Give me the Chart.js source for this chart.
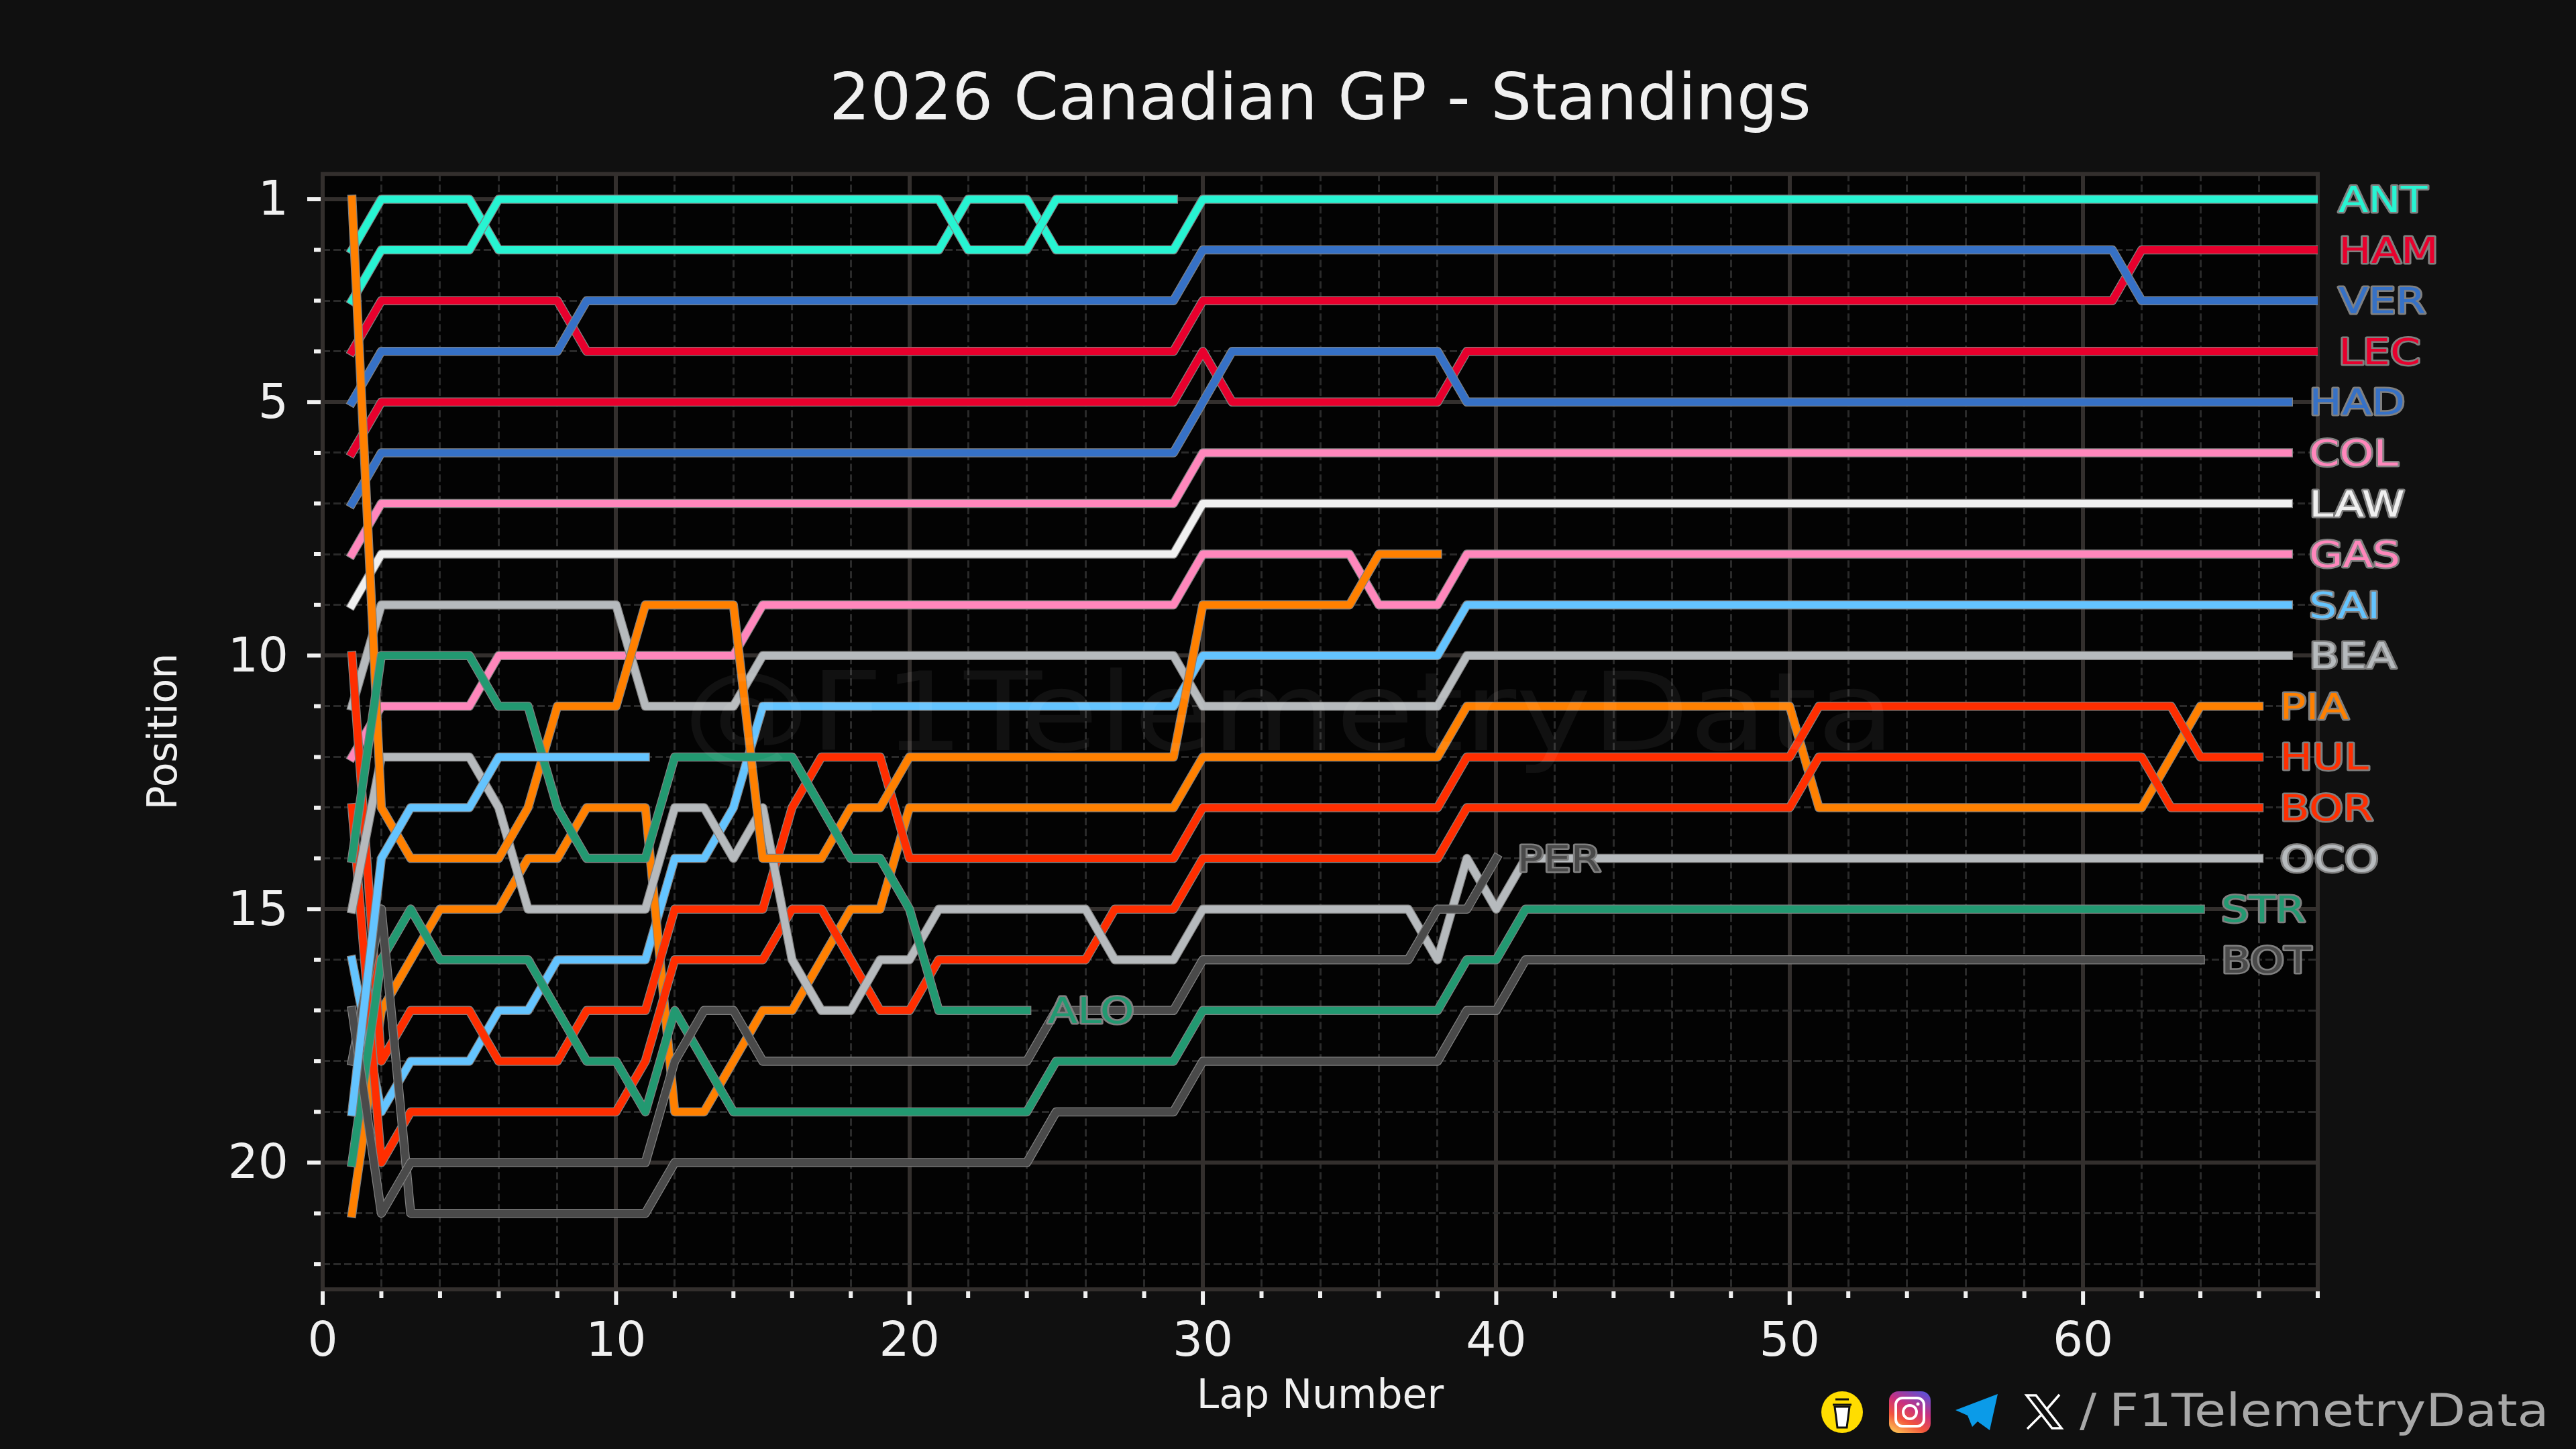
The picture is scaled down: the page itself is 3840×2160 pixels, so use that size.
<!DOCTYPE html>
<html>
<head>
<meta charset="utf-8">
<title>2026 Canadian GP - Standings</title>
<script src="https://cdn.jsdelivr.net/npm/chart.js"></script>
<style>
  html, body { margin: 0; background: #101010; }
  canvas { display: block; }
</style>
</head>
<body>
<canvas id="standings" width="3840" height="2160"></canvas>
<script>
const laps = [
  1, 2, 3, 4, 5, 6, 7, 8, 9, 10, 11, 12, 13, 14, 15, 16, 17, 18, 19, 20,
  21, 22, 23, 24, 25, 26, 27, 28, 29, 30, 31, 32, 33, 34, 35, 36, 37, 38, 39, 40,
  41, 42, 43, 44, 45, 46, 47, 48, 49, 50, 51, 52, 53, 54, 55, 56, 57, 58, 59, 60,
  61, 62, 63, 64, 65, 66, 67, 68,
];

const xTicks = [0, 2, 4, 6, 8, 10, 12, 14, 16, 18, 20, 22, 24, 26, 28, 30, 32, 34, 36, 38, 40, 42, 44, 46, 48, 50, 52, 54, 56, 58, 60, 62, 64, 66, 68];
const xMajorTicks = [0, 10, 20, 30, 40, 50, 60];
const yTicks = [1, 2, 3, 4, 5, 6, 7, 8, 9, 10, 11, 12, 13, 14, 15, 16, 17, 18, 19, 20, 21, 22];
const yMajorTicks = [1, 5, 10, 15, 20];

const ANT = [2, 1, 1, 1, 1, 2, 2, 2, 2, 2, 2, 2, 2, 2, 2, 2, 2, 2, 2, 2,
  2, 1, 1, 1, 2, 2, 2, 2, 2, 1, 1, 1, 1, 1, 1, 1, 1, 1, 1, 1,
  1, 1, 1, 1, 1, 1, 1, 1, 1, 1, 1, 1, 1, 1, 1, 1, 1, 1, 1, 1,
  1, 1, 1, 1, 1, 1, 1, 1];
const RUS = [3, 2, 2, 2, 2, 1, 1, 1, 1, 1, 1, 1, 1, 1, 1, 1, 1, 1, 1, 1,
  1, 2, 2, 2, 1, 1, 1, 1, 1];
const HAM = [4, 3, 3, 3, 3, 3, 3, 3, 4, 4, 4, 4, 4, 4, 4, 4, 4, 4, 4, 4,
  4, 4, 4, 4, 4, 4, 4, 4, 4, 3, 3, 3, 3, 3, 3, 3, 3, 3, 3, 3,
  3, 3, 3, 3, 3, 3, 3, 3, 3, 3, 3, 3, 3, 3, 3, 3, 3, 3, 3, 3,
  3, 2, 2, 2, 2, 2, 2, 2];
const VER = [5, 4, 4, 4, 4, 4, 4, 4, 3, 3, 3, 3, 3, 3, 3, 3, 3, 3, 3, 3,
  3, 3, 3, 3, 3, 3, 3, 3, 3, 2, 2, 2, 2, 2, 2, 2, 2, 2, 2, 2,
  2, 2, 2, 2, 2, 2, 2, 2, 2, 2, 2, 2, 2, 2, 2, 2, 2, 2, 2, 2,
  2, 3, 3, 3, 3, 3, 3, 3];
const LEC = [6, 5, 5, 5, 5, 5, 5, 5, 5, 5, 5, 5, 5, 5, 5, 5, 5, 5, 5, 5,
  5, 5, 5, 5, 5, 5, 5, 5, 5, 4, 5, 5, 5, 5, 5, 5, 5, 5, 4, 4,
  4, 4, 4, 4, 4, 4, 4, 4, 4, 4, 4, 4, 4, 4, 4, 4, 4, 4, 4, 4,
  4, 4, 4, 4, 4, 4, 4, 4];
const HAD = [7, 6, 6, 6, 6, 6, 6, 6, 6, 6, 6, 6, 6, 6, 6, 6, 6, 6, 6, 6,
  6, 6, 6, 6, 6, 6, 6, 6, 6, 5, 4, 4, 4, 4, 4, 4, 4, 4, 5, 5,
  5, 5, 5, 5, 5, 5, 5, 5, 5, 5, 5, 5, 5, 5, 5, 5, 5, 5, 5, 5,
  5, 5, 5, 5, 5, 5, 5];
const COL = [8, 7, 7, 7, 7, 7, 7, 7, 7, 7, 7, 7, 7, 7, 7, 7, 7, 7, 7, 7,
  7, 7, 7, 7, 7, 7, 7, 7, 7, 6, 6, 6, 6, 6, 6, 6, 6, 6, 6, 6,
  6, 6, 6, 6, 6, 6, 6, 6, 6, 6, 6, 6, 6, 6, 6, 6, 6, 6, 6, 6,
  6, 6, 6, 6, 6, 6, 6];
const LAW = [9, 8, 8, 8, 8, 8, 8, 8, 8, 8, 8, 8, 8, 8, 8, 8, 8, 8, 8, 8,
  8, 8, 8, 8, 8, 8, 8, 8, 8, 7, 7, 7, 7, 7, 7, 7, 7, 7, 7, 7,
  7, 7, 7, 7, 7, 7, 7, 7, 7, 7, 7, 7, 7, 7, 7, 7, 7, 7, 7, 7,
  7, 7, 7, 7, 7, 7, 7];
const GAS = [12, 11, 11, 11, 11, 10, 10, 10, 10, 10, 10, 10, 10, 10, 9, 9, 9, 9, 9, 9,
  9, 9, 9, 9, 9, 9, 9, 9, 9, 8, 8, 8, 8, 8, 8, 9, 9, 9, 8, 8,
  8, 8, 8, 8, 8, 8, 8, 8, 8, 8, 8, 8, 8, 8, 8, 8, 8, 8, 8, 8,
  8, 8, 8, 8, 8, 8, 8];
const SAI = [16, 19, 18, 18, 18, 17, 17, 16, 16, 16, 16, 14, 14, 13, 11, 11, 11, 11, 11, 11,
  11, 11, 11, 11, 11, 11, 11, 11, 11, 10, 10, 10, 10, 10, 10, 10, 10, 10, 9, 9,
  9, 9, 9, 9, 9, 9, 9, 9, 9, 9, 9, 9, 9, 9, 9, 9, 9, 9, 9, 9,
  9, 9, 9, 9, 9, 9, 9];
const BEA = [11, 9, 9, 9, 9, 9, 9, 9, 9, 9, 11, 11, 11, 11, 10, 10, 10, 10, 10, 10,
  10, 10, 10, 10, 10, 10, 10, 10, 10, 11, 11, 11, 11, 11, 11, 11, 11, 11, 10, 10,
  10, 10, 10, 10, 10, 10, 10, 10, 10, 10, 10, 10, 10, 10, 10, 10, 10, 10, 10, 10,
  10, 10, 10, 10, 10, 10, 10];
const PIA = [21, 17, 16, 15, 15, 15, 14, 14, 13, 13, 13, 19, 19, 18, 17, 17, 16, 15, 15, 13,
  13, 13, 13, 13, 13, 13, 13, 13, 13, 12, 12, 12, 12, 12, 12, 12, 12, 12, 11, 11,
  11, 11, 11, 11, 11, 11, 11, 11, 11, 11, 13, 13, 13, 13, 13, 13, 13, 13, 13, 13,
  13, 13, 12, 11, 11, 11];
const HUL = [10, 18, 17, 17, 17, 18, 18, 18, 17, 17, 17, 15, 15, 15, 15, 13, 12, 12, 12, 14,
  14, 14, 14, 14, 14, 14, 14, 14, 14, 13, 13, 13, 13, 13, 13, 13, 13, 13, 12, 12,
  12, 12, 12, 12, 12, 12, 12, 12, 12, 12, 11, 11, 11, 11, 11, 11, 11, 11, 11, 11,
  11, 11, 11, 12, 12, 12];
const BOR = [13, 20, 19, 19, 19, 19, 19, 19, 19, 19, 18, 16, 16, 16, 16, 15, 15, 16, 17, 17,
  16, 16, 16, 16, 16, 16, 15, 15, 15, 14, 14, 14, 14, 14, 14, 14, 14, 14, 13, 13,
  13, 13, 13, 13, 13, 13, 13, 13, 13, 13, 12, 12, 12, 12, 12, 12, 12, 12, 12, 12,
  12, 12, 13, 13, 13, 13];
const OCO = [15, 12, 12, 12, 12, 13, 15, 15, 15, 15, 15, 13, 13, 14, 13, 16, 17, 17, 16, 16,
  15, 15, 15, 15, 15, 15, 16, 16, 16, 15, 15, 15, 15, 15, 15, 15, 15, 16, 14, 15,
  14, 14, 14, 14, 14, 14, 14, 14, 14, 14, 14, 14, 14, 14, 14, 14, 14, 14, 14, 14,
  14, 14, 14, 14, 14, 14];
const STR = [20, 16, 15, 16, 16, 16, 16, 17, 18, 18, 19, 17, 18, 19, 19, 19, 19, 19, 19, 19,
  19, 19, 19, 19, 18, 18, 18, 18, 18, 17, 17, 17, 17, 17, 17, 17, 17, 17, 16, 16,
  15, 15, 15, 15, 15, 15, 15, 15, 15, 15, 15, 15, 15, 15, 15, 15, 15, 15, 15, 15,
  15, 15, 15, 15];
const BOT = [18, 15, 21, 21, 21, 21, 21, 21, 21, 21, 21, 20, 20, 20, 20, 20, 20, 20, 20, 20,
  20, 20, 20, 20, 19, 19, 19, 19, 19, 18, 18, 18, 18, 18, 18, 18, 18, 18, 17, 17,
  16, 16, 16, 16, 16, 16, 16, 16, 16, 16, 16, 16, 16, 16, 16, 16, 16, 16, 16, 16,
  16, 16, 16, 16];
const NOR = [1, 13, 14, 14, 14, 14, 13, 11, 11, 11, 9, 9, 9, 9, 14, 14, 14, 13, 13, 12,
  12, 12, 12, 12, 12, 12, 12, 12, 12, 9, 9, 9, 9, 9, 9, 8, 8, 8];
const ALO = [14, 10, 10, 10, 10, 11, 11, 13, 14, 14, 14, 12, 12, 12, 12, 12, 13, 14, 14, 15,
  17, 17, 17, 17];
const PER = [17, 21, 20, 20, 20, 20, 20, 20, 20, 20, 20, 18, 17, 17, 18, 18, 18, 18, 18, 18,
  18, 18, 18, 18, 17, 17, 17, 17, 17, 16, 16, 16, 16, 16, 16, 16, 16, 15, 15, 14];
const ALB = [19, 14, 13, 13, 13, 12, 12, 12, 12, 12, 12];

// bottom line first, same order the lines overlap in the picture
const drivers = [
  { code: 'ANT', values: ANT, color: '#27F4D2', label: true },
  { code: 'RUS', values: RUS, color: '#27F4D2', label: false },
  { code: 'HAM', values: HAM, color: '#E8002D', label: true },
  { code: 'VER', values: VER, color: '#3671C6', label: true },
  { code: 'LEC', values: LEC, color: '#E8002D', label: true },
  { code: 'HAD', values: HAD, color: '#3671C6', label: true },
  { code: 'COL', values: COL, color: '#FF87BC', label: true },
  { code: 'LAW', values: LAW, color: '#F0F0F0', label: true },
  { code: 'GAS', values: GAS, color: '#FF87BC', label: true },
  { code: 'SAI', values: SAI, color: '#64C4FF', label: true },
  { code: 'BEA', values: BEA, color: '#B6BABD', label: true },
  { code: 'PIA', values: PIA, color: '#FF8000', label: true },
  { code: 'HUL', values: HUL, color: '#FF2E00', label: true },
  { code: 'BOR', values: BOR, color: '#FF2E00', label: true },
  { code: 'OCO', values: OCO, color: '#B6BABD', label: true },
  { code: 'STR', values: STR, color: '#229971', label: true },
  { code: 'BOT', values: BOT, color: '#4A4A4A', label: true },
  { code: 'NOR', values: NOR, color: '#FF8000', label: false },
  { code: 'ALO', values: ALO, color: '#229971', label: true },
  { code: 'PER', values: PER, color: '#4A4A4A', label: true },
  { code: 'ALB', values: ALB, color: '#64C4FF', label: false },
];

const FONT = '"DejaVu Sans"';
const TEXT = '#F0F0F0';
const OUTLINE = '#808080';

const points = (values) => values.map((y, i) => ({ x: laps[i], y }));

const datasets = [];
drivers.forEach((d) => {
  const line = { pointRadius: 0, tension: 0, borderCapStyle: 'square', borderJoinStyle: 'round' };
  datasets.push({ ...line, label: d.code + ' outline', data: points(d.values), borderColor: OUTLINE, borderWidth: 13.5 });
  datasets.push({ ...line, label: d.code, data: points(d.values), borderColor: d.color, borderWidth: 11 });
});
// Chart.js paints the first dataset last
datasets.reverse();

// text drawn a bit wider, the original font is wider than DejaVu
function wideText(ctx, text, x, y, sx, outlined) {
  ctx.save();
  ctx.translate(x, y);
  ctx.scale(sx, 1);
  if (outlined) ctx.strokeText(text, 0, 0);
  ctx.fillText(text, 0, 0);
  ctx.restore();
}

const frame = {
  id: 'frame',
  beforeDraw(chart) {
    const { ctx, chartArea: a } = chart;
    ctx.save();
    ctx.fillStyle = '#030303';
    ctx.fillRect(a.left, a.top, a.right - a.left, a.bottom - a.top);
    ctx.restore();
  },
  beforeDatasetsDraw(chart) {
    const { ctx, chartArea: a, scales } = chart;
    ctx.save();
    ctx.strokeStyle = '#332F2D';
    ctx.lineWidth = 6;
    ctx.strokeRect(a.left, a.top, a.right - a.left, a.bottom - a.top);
    // tick marks, Chart.js has only one length per axis
    ctx.strokeStyle = TEXT;
    ctx.lineWidth = 6;
    ctx.beginPath();
    xTicks.forEach((v) => {
      const x = scales.x.getPixelForValue(v);
      ctx.moveTo(x, a.bottom + 3);
      ctx.lineTo(x, a.bottom + (xMajorTicks.includes(v) ? 23 : 13));
    });
    yTicks.forEach((v) => {
      const y = scales.y.getPixelForValue(v);
      ctx.moveTo(a.left - 3, y);
      ctx.lineTo(a.left - (yMajorTicks.includes(v) ? 23 : 13), y);
    });
    ctx.stroke();
    ctx.restore();
  },
  afterDatasetsDraw(chart) {
    const { ctx, scales } = chart;
    ctx.save();
    ctx.textAlign = 'left';
    ctx.textBaseline = 'alphabetic';
    ctx.font = '162px ' + FONT;
    ctx.fillStyle = 'rgba(255,255,255,0.06)';
    wideText(ctx, '@F1TelemetryData', 1018, 1118, 1.17, false);

    ctx.font = '54px ' + FONT;
    ctx.textBaseline = 'middle';
    ctx.lineJoin = 'round';
    ctx.lineWidth = 5;
    ctx.strokeStyle = OUTLINE;
    drivers.filter((d) => d.label).forEach((d) => {
      const last = d.values.length;
      const x = scales.x.getPixelForValue(last) + 31;
      const y = scales.y.getPixelForValue(d.values[last - 1]) + 5;
      ctx.fillStyle = d.color;
      wideText(ctx, d.code, x, y, 1.2, true);
    });
    ctx.restore();
  },
  afterDraw(chart) {
    const { ctx } = chart;
    ctx.save();

    // buy me a coffee
    ctx.fillStyle = '#FFDD00';
    ctx.beginPath();
    ctx.arc(2746, 2105, 31, 0, Math.PI * 2);
    ctx.fill();
    ctx.fillStyle = '#FFFFFF';
    ctx.strokeStyle = '#111111';
    ctx.lineWidth = 3;
    ctx.beginPath();
    ctx.moveTo(2735, 2097);
    ctx.lineTo(2757, 2097);
    ctx.lineTo(2753, 2128);
    ctx.lineTo(2739, 2128);
    ctx.closePath();
    ctx.fill();
    ctx.stroke();
    ctx.beginPath();
    ctx.moveTo(2732, 2094);
    ctx.lineTo(2760, 2094);
    ctx.moveTo(2736, 2086);
    ctx.lineTo(2756, 2086);
    ctx.stroke();

    // instagram
    const ig = ctx.createLinearGradient(2830, 2138, 2864, 2072);
    ig.addColorStop(0, '#FEC053');
    ig.addColorStop(0.3, '#F2543C');
    ig.addColorStop(0.6, '#C9307F');
    ig.addColorStop(1, '#5B51D8');
    ctx.fillStyle = ig;
    ctx.beginPath();
    ctx.roundRect(2816, 2074, 62, 62, 14);
    ctx.fill();
    ctx.strokeStyle = '#FFFFFF';
    ctx.lineWidth = 4;
    ctx.beginPath();
    ctx.roundRect(2826, 2084, 42, 42, 10);
    ctx.stroke();
    ctx.beginPath();
    ctx.arc(2847, 2105, 10, 0, Math.PI * 2);
    ctx.stroke();
    ctx.fillStyle = '#FFFFFF';
    ctx.beginPath();
    ctx.arc(2859, 2093, 2.5, 0, Math.PI * 2);
    ctx.fill();

    // telegram
    ctx.fillStyle = '#0B9BE8';
    ctx.beginPath();
    ctx.moveTo(2978, 2078);
    ctx.lineTo(2915, 2102);
    ctx.lineTo(2933, 2110);
    ctx.lineTo(2940, 2127);
    ctx.lineTo(2948, 2119);
    ctx.lineTo(2966, 2132);
    ctx.closePath();
    ctx.fill();

    // x
    ctx.strokeStyle = '#FFFFFF';
    ctx.lineWidth = 3.5;
    ctx.beginPath();
    ctx.moveTo(3021, 2080);
    ctx.lineTo(3035, 2080);
    ctx.lineTo(3073, 2129);
    ctx.lineTo(3059, 2129);
    ctx.closePath();
    ctx.moveTo(3070, 2079);
    ctx.lineTo(3050, 2102);
    ctx.moveTo(3042, 2110);
    ctx.lineTo(3022, 2130);
    ctx.stroke();

    ctx.fillStyle = '#A8A8A8';
    ctx.font = '68px ' + FONT;
    ctx.textAlign = 'left';
    ctx.textBaseline = 'alphabetic';
    wideText(ctx, '/', 3100, 2126, 1.1, false);
    wideText(ctx, 'F1TelemetryData', 3144, 2126, 1.13, false);
    ctx.restore();
  },
};

const standingsChart = new Chart('standings', {
  type: 'line',
  data: { datasets },
  plugins: [frame],
  options: {
    responsive: false,
    devicePixelRatio: 1,
    animation: false,
    events: [],
    layout: { padding: { left: 0, top: 0, right: 385, bottom: 0 } },
    plugins: {
      legend: { display: false },
      tooltip: { enabled: false },
      title: {
        display: true,
        text: '2026 Canadian GP - Standings',
        color: TEXT,
        fullSize: false,
        font: { family: FONT, size: 96, weight: 'normal', lineHeight: 1.2 },
        padding: { top: 95, bottom: 49 },
      },
    },
    scales: {
      x: {
        type: 'linear',
        min: 0,
        max: 68,
        afterFit(scale) { scale.height = 238; },
        afterBuildTicks(scale) {
          scale.ticks = xTicks.map((value) => ({ value, major: xMajorTicks.includes(value) }));
        },
        grid: {
          drawTicks: false,
          color: (c) => (xMajorTicks.includes(c.tick.value) ? '#332F2D' : '#2A2A2A'),
          lineWidth: (c) => (xMajorTicks.includes(c.tick.value) ? 6 : 3),
        },
        border: {
          display: false,
          dash: (c) => (xMajorTicks.includes(c.tick.value) ? [] : [11, 5]),
        },
        ticks: {
          color: TEXT,
          autoSkip: false,
          maxRotation: 0,
          padding: 38,
          font: { family: FONT, size: 71 },
          callback: (v) => (xMajorTicks.includes(v) ? String(v) : ''),
        },
        title: {
          display: true,
          text: 'Lap Number',
          color: TEXT,
          font: { family: FONT, size: 60, lineHeight: 1.2 },
          padding: { top: 0, bottom: 41 },
        },
      },
      y: {
        type: 'linear',
        reverse: true,
        min: 0.5,
        max: 22.5,
        afterFit(scale) { scale.width = 481; },
        afterBuildTicks(scale) {
          scale.ticks = yTicks.map((value) => ({ value, major: yMajorTicks.includes(value) }));
        },
        grid: {
          drawTicks: false,
          color: (c) => (yMajorTicks.includes(c.tick.value) ? '#332F2D' : '#2A2A2A'),
          lineWidth: (c) => (yMajorTicks.includes(c.tick.value) ? 6 : 3),
        },
        border: {
          display: false,
          dash: (c) => (yMajorTicks.includes(c.tick.value) ? [] : [11, 5]),
        },
        ticks: {
          color: TEXT,
          autoSkip: false,
          padding: 51,
          labelOffset: 5,
          font: { family: FONT, size: 71 },
          callback: (v) => (yMajorTicks.includes(v) ? String(v) : ''),
        },
        title: {
          display: true,
          text: 'Position',
          color: TEXT,
          font: { family: FONT, size: 60, lineHeight: 1.2 },
          padding: { top: 211, bottom: 0 },
        },
      },
    },
  },
});
</script>
</body>
</html>
